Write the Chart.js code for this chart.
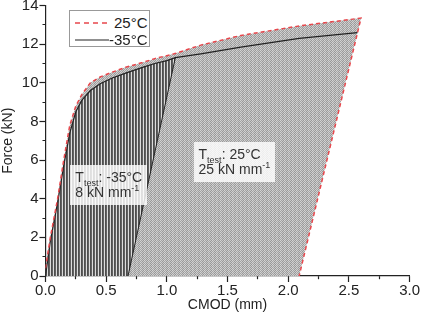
<!DOCTYPE html>
<html>
<head>
<meta charset="utf-8">
<script src="https://cdn.jsdelivr.net/npm/chart.js@4.4.1/dist/chart.umd.min.js"></script>
<style>
  body { margin: 0; background: #fff; }
  #wrap { position: relative; width: 421px; height: 312px; }
  .legend { position: absolute; width: 79px; height: 35px; border: 1px solid #999; background: #fff;
            font: 15px "Liberation Sans", Arial, sans-serif; color: #222; }
  .legend span { position: absolute; right: 1px; line-height: 17px; }
  .note { position: absolute; background: rgba(255,255,255,0.82); color: #333;
          font: 14px "Liberation Sans", Arial, sans-serif; line-height: 15px; padding: 5px 5px; white-space: nowrap; }
  .note sub, .note sup { font-size: 9px; line-height: 0; }
</style>
</head>
<body>
<div id="wrap">
  <canvas id="grafik" width="421" height="312"></canvas>
  <div class="legend" data-x="0.19" data-y="13.75">
    <svg width="79" height="35">
      <line x1="5" y1="12" x2="39" y2="12" stroke="#e8474c" stroke-width="1.5" stroke-dasharray="5,4"/>
      <line x1="5" y1="29" x2="39" y2="29" stroke="#222" stroke-width="1.2"/>
    </svg>
    <span style="top:3px">25°C</span>
    <span style="top:20px">-35°C</span>
  </div>
  <div class="note" data-x="0.205" data-y="5.76">T<sub>test</sub>: -35°C<br>8 kN mm<sup>-1</sup></div>
  <div class="note" data-x="1.22" data-y="6.96">T<sub>test</sub>: 25°C<br>25 kN mm<sup>-1</sup></div>
</div>
<script>
// 25°C curve (red dashed) and its unloading branch
const cmod25 = [0, 0.04, 0.1, 0.15, 0.2, 0.25, 0.3, 0.37, 0.45, 0.55, 0.66, 0.8, 0.9, 1.06, 1.28, 1.61, 2.1, 2.6];
const force25 = [0.4, 2.0, 4.0, 6.0, 7.8, 8.8, 9.4, 10.0, 10.3, 10.55, 10.8, 11.05, 11.25, 11.5, 11.95, 12.45, 12.95, 13.35];
const unloadCmod25 = [2.6, 2.09];
const unloadForce25 = [13.35, 0];

// -35°C curve (black) and its unloading branch
const cmod35 = [0, 0.04, 0.1, 0.15, 0.2, 0.25, 0.3, 0.37, 0.45, 0.55, 0.66, 0.8, 0.9, 1.0, 1.07, 1.28, 1.61, 2.09, 2.57];
const force35 = [0, 1.8, 3.8, 5.7, 7.4, 8.5, 9.1, 9.6, 9.95, 10.25, 10.5, 10.8, 11.0, 11.15, 11.3, 11.5, 11.85, 12.3, 12.6];
const unloadCmod35 = [1.07, 0.68];
const unloadForce35 = [11.3, 0];
const hatchEnd35 = 15; // points of the -35°C curve up to the unloading

const xTicks = [0, 0.5, 1.0, 1.5, 2.0, 2.5, 3.0];
const yTicks = [0, 2, 4, 6, 8, 10, 12, 14];

const fam = '"Liberation Sans", Arial, sans-serif';

function pts(xs, ys) {
    return xs.map((x, i) => ({ x: x, y: ys[i] }));
}

function makePattern(cols) {
    const c = document.createElement('canvas');
    c.width = cols[0].length;
    c.height = cols.length;
    const g = c.getContext('2d');
    cols.forEach((row, y) => row.forEach((col, x) => {
        g.fillStyle = col;
        g.fillRect(x, y, 1, 1);
    }));
    return g.createPattern(c, 'repeat');
}

const stripes = makePattern([['#4e4e4e', '#626262', '#dcdcdc']]);
const dots = makePattern([['#d4d4d4', '#a4a4a4', '#c8c8c8', '#989898'],
                          ['#a4a4a4', '#d0d0d0', '#989898', '#cccccc']]);

function isMajor(v, list) {
    return list.some(t => Math.abs(t - v) < 1e-6);
}

const noBorder = { borderWidth: 0, pointRadius: 0, backgroundColor: 'transparent', fill: false };

const placeNotes = {
    id: 'placeNotes',
    afterDraw(chart) {
        const sx = chart.scales.x, sy = chart.scales.y;
        document.querySelectorAll('.note, .legend').forEach(el => {
            el.style.left = sx.getPixelForValue(+el.dataset.x) + 'px';
            el.style.top = sy.getPixelForValue(+el.dataset.y) + 'px';
        });
    }
};

const ctx = document.getElementById('grafik').getContext('2d');
new Chart(ctx, {
    type: 'line',
    data: {
        datasets: [
            {
                label: '25°C',
                data: pts(cmod25, force25).concat(pts(unloadCmod25.slice(1), unloadForce25.slice(1))),
                borderColor: '#e8474c',
                borderWidth: 1.5,
                borderDash: [4, 3],
                pointRadius: 0,
                fill: false
            },
            {
                label: '-35°C',
                data: pts(cmod35, force35),
                borderColor: '#222',
                borderWidth: 1.2,
                pointRadius: 0,
                fill: false
            },
            {
                label: 'unload -35',
                data: pts(unloadCmod35, unloadForce35),
                borderColor: '#222',
                borderWidth: 1,
                pointRadius: 0,
                fill: false
            },
            Object.assign({}, noBorder, {
                label: 'area -35',
                data: pts(cmod35.slice(0, hatchEnd35), force35.slice(0, hatchEnd35)),
                backgroundColor: stripes,
                fill: 4
            }),
            Object.assign({}, noBorder, {
                label: 'base -35',
                data: [{ x: 0, y: 0 }].concat(pts(unloadCmod35.slice().reverse(), unloadForce35.slice().reverse()))
            }),
            Object.assign({}, noBorder, {
                label: 'area 25',
                data: pts(cmod25, force25),
                backgroundColor: dots,
                fill: 6
            }),
            Object.assign({}, noBorder, {
                label: 'base 25',
                data: [{ x: 0, y: 0 }].concat(pts(unloadCmod25.slice().reverse(), unloadForce25.slice().reverse()))
            })
        ]
    },
    options: {
        responsive: false,
        animation: false,
        events: [],
        layout: { padding: { left: 0, right: -3, top: 0, bottom: 0 } },
        plugins: {
            legend: { display: false },
            tooltip: { enabled: false }
        },
        scales: {
            x: {
                type: 'linear',
                min: 0,
                max: 3,
                ticks: {
                    stepSize: 0.25,
                    autoSkip: false,
                    maxRotation: 0,
                    padding: 1,
                    color: '#222',
                    font: { size: 15, family: fam, lineHeight: 1 },
                    callback: v => isMajor(v, xTicks) ? v.toFixed(1) : ''
                },
                grid: {
                    drawOnChartArea: false,
                    tickLength: 6,
                    tickColor: '#222',
                    tickWidth: 1.2,
                    tickBorderDash: c => isMajor(c.tick.value, xTicks) ? [] : [3, 10]
                },
                border: { color: '#222', width: 1.2 },
                title: {
                    display: true,
                    text: 'CMOD (mm)',
                    color: '#222',
                    font: { size: 14, family: fam, lineHeight: 1 },
                    padding: { top: -1, bottom: 0 }
                }
            },
            y: {
                type: 'linear',
                min: 0,
                max: 14,
                ticks: {
                    stepSize: 1,
                    autoSkip: false,
                    padding: 1,
                    color: '#222',
                    font: { size: 15, family: fam, lineHeight: 0.6 },
                    callback: v => isMajor(v, yTicks) ? String(v) : ''
                },
                grid: {
                    drawOnChartArea: false,
                    tickLength: 6,
                    tickColor: '#222',
                    tickWidth: 1.2,
                    tickBorderDash: c => isMajor(c.tick.value, yTicks) ? [] : [0, 3, 3, 10]
                },
                border: { color: '#222', width: 1.2 },
                title: {
                    display: true,
                    text: 'Force (kN)',
                    color: '#222',
                    font: { size: 14, family: fam },
                    padding: { top: 0, bottom: 4 }
                }
            }
        }
    },
    plugins: [placeNotes]
});
</script>
</body>
</html>
